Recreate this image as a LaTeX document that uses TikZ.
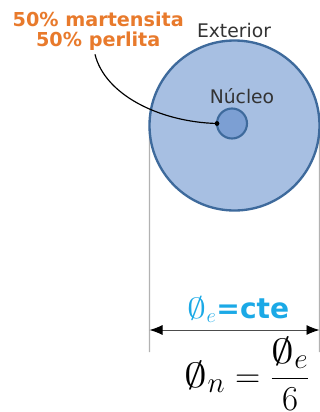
\documentclass[tikz,border=0pt]{standalone}
\usepackage{fontspec}
\usepackage{amsmath}
\usetikzlibrary{arrows.meta, backgrounds}
\newfontfamily\dejavu{DejaVu Sans}
\definecolor{azulext}{HTML}{A7BFE2}
\definecolor{azulnuc}{HTML}{7C9FD3}
\definecolor{azulborde}{HTML}{3E6A9C}
\definecolor{naranja}{HTML}{E87A2C}
\definecolor{celeste}{HTML}{1BA9E6}
\definecolor{gristexto}{HTML}{333333}
% simbolo de diametro un poco mas ancho
\newcommand{\diam}{\mathord{\scalebox{1.3}[1]{$\emptyset$}}}

\begin{document}
\begin{tikzpicture}[x=0.03cm, y=-0.03cm, thick,
  cota/.style={draw=gray!60, line width=1.1pt},
  etiqueta/.style={text=gristexto, font=\dejavu\fontsize{16}{19}\selectfont, inner sep=0pt}]
  \useasboundingbox (0,0) rectangle (320,412);

  \coordinate (C) at (234.5, 125.5);
  \coordinate (PI) at (149.5, 352);
  \coordinate (PD) at (319.5, 352);
  \coordinate (FI) at (149.5, 330);
  \coordinate (FD) at (319.5, 330);

  % pieza: exterior y nucleo
  \node[circle, draw=azulborde, fill=azulext, line width=2pt, outer sep=0pt,
        minimum size=5.1cm] (ext) at (C) {};
  \node[circle, draw=azulborde, fill=azulnuc, line width=1.8pt, outer sep=0pt,
        minimum size=0.9cm] (nuc) at (232, 123.5) {};

  \node[etiqueta, anchor=base] (lext) at (234, 37) {Exterior};
  \node[etiqueta, anchor=base] (lnuc) at (242, 103) {Núcleo};

  % texto naranja y linea de llamada
  \node[text=naranja, font=\dejavu\bfseries\fontsize{16.4}{17.5}\selectfont,
        align=center, inner sep=1pt, anchor=north west] (lmic) at (11, 10)
        {50\% martensita\\50\% perlita};
  \draw[line width=1pt] ([xshift=2.52cm, yshift=-0.06cm]lmic.south west)
        .. controls (105, 95) and (160, 122) .. (nuc.west);
  \fill (nuc.west) circle (2.4);

  % cotas (debajo del circulo)
  \begin{scope}[on background layer]
    \draw[cota] (ext.west) -- (PI);
    \draw[cota] (ext.east) -- (PD);
  \end{scope}
  \draw[draw=gray!60!black, line width=0.8pt,
        {Latex[length=3.9mm, width=3mm, black]}-{Latex[length=3.9mm, width=3mm, black]}]
        (FI) -- (FD);

  \node[text=celeste, font=\dejavu\bfseries\fontsize{24}{28}\selectfont,
        anchor=base, inner sep=0pt] (cte) at (238.5, 318)
        {$\diam_e$=cte};
  \node[font=\fontsize{24.88}{30}\selectfont, anchor=base, inner sep=0pt] (form) at (247.5, 387)
        {\scalebox{1.2}{$\diam_n = \dfrac{\diam_e}{6}$}};
\end{tikzpicture}
\end{document}
